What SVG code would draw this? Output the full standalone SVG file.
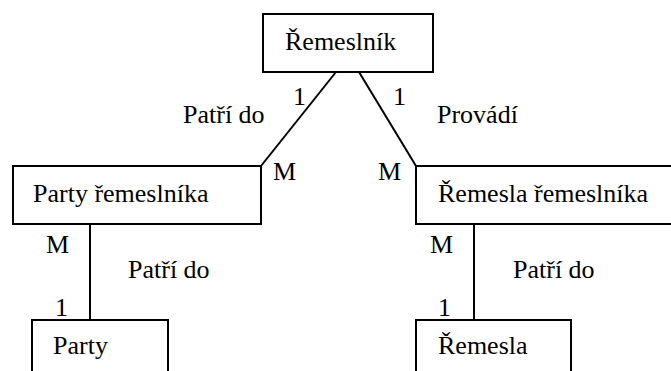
<svg xmlns="http://www.w3.org/2000/svg" width="671" height="371" viewBox="0 0 671 371">
  <style>
    .box { fill: #ffffff; stroke: #000000; stroke-width: 2; }
    .lbl { font-family: "Liberation Serif", "Times New Roman", serif; font-size: 26px; fill: #000000; }
    .conn line { stroke: #000000; stroke-width: 2; }
  </style>
  <rect width="671" height="371" fill="#ffffff"/>

  <!-- relationships -->
  <g id="connectors" class="conn">
    <line x1="336" y1="72" x2="261" y2="166"/>
    <line x1="359" y1="72" x2="416" y2="166"/>
    <line x1="90" y1="224" x2="90" y2="320"/>
    <line x1="474" y1="224" x2="474" y2="320"/>
  </g>

  <!-- cardinalities and relationship names -->
  <g id="labels" class="lbl">
    <text x="293" y="105">1</text>
    <text x="183" y="123">Patří do</text>
    <text x="393" y="105">1</text>
    <text x="437" y="123">Provádí</text>
    <text x="273" y="180">M</text>
    <text x="378" y="180">M</text>
    <text x="46" y="253">M</text>
    <text x="128" y="278">Patří do</text>
    <text x="55" y="316">1</text>
    <text x="430" y="253">M</text>
    <text x="513" y="278">Patří do</text>
    <text x="438" y="316">1</text>
  </g>

  <!-- entities -->
  <g id="remeslnik">
    <rect class="box" x="263" y="14" width="170" height="58"/>
    <text class="lbl" x="285" y="50">Řemeslník</text>
  </g>
  <g id="party-remeslnika">
    <rect class="box" x="13" y="166" width="248" height="58"/>
    <text class="lbl" x="33" y="202">Party řemeslníka</text>
  </g>
  <g id="remesla-remeslnika">
    <rect class="box" x="416" y="166" width="270" height="58"/>
    <text class="lbl" x="438" y="202">Řemesla řemeslníka</text>
  </g>
  <g id="party">
    <rect class="box" x="32" y="320" width="136" height="60"/>
    <text class="lbl" x="53" y="354">Party</text>
  </g>
  <g id="remesla">
    <rect class="box" x="416" y="320" width="155" height="60"/>
    <text class="lbl" x="438" y="354">Řemesla</text>
  </g>
</svg>
